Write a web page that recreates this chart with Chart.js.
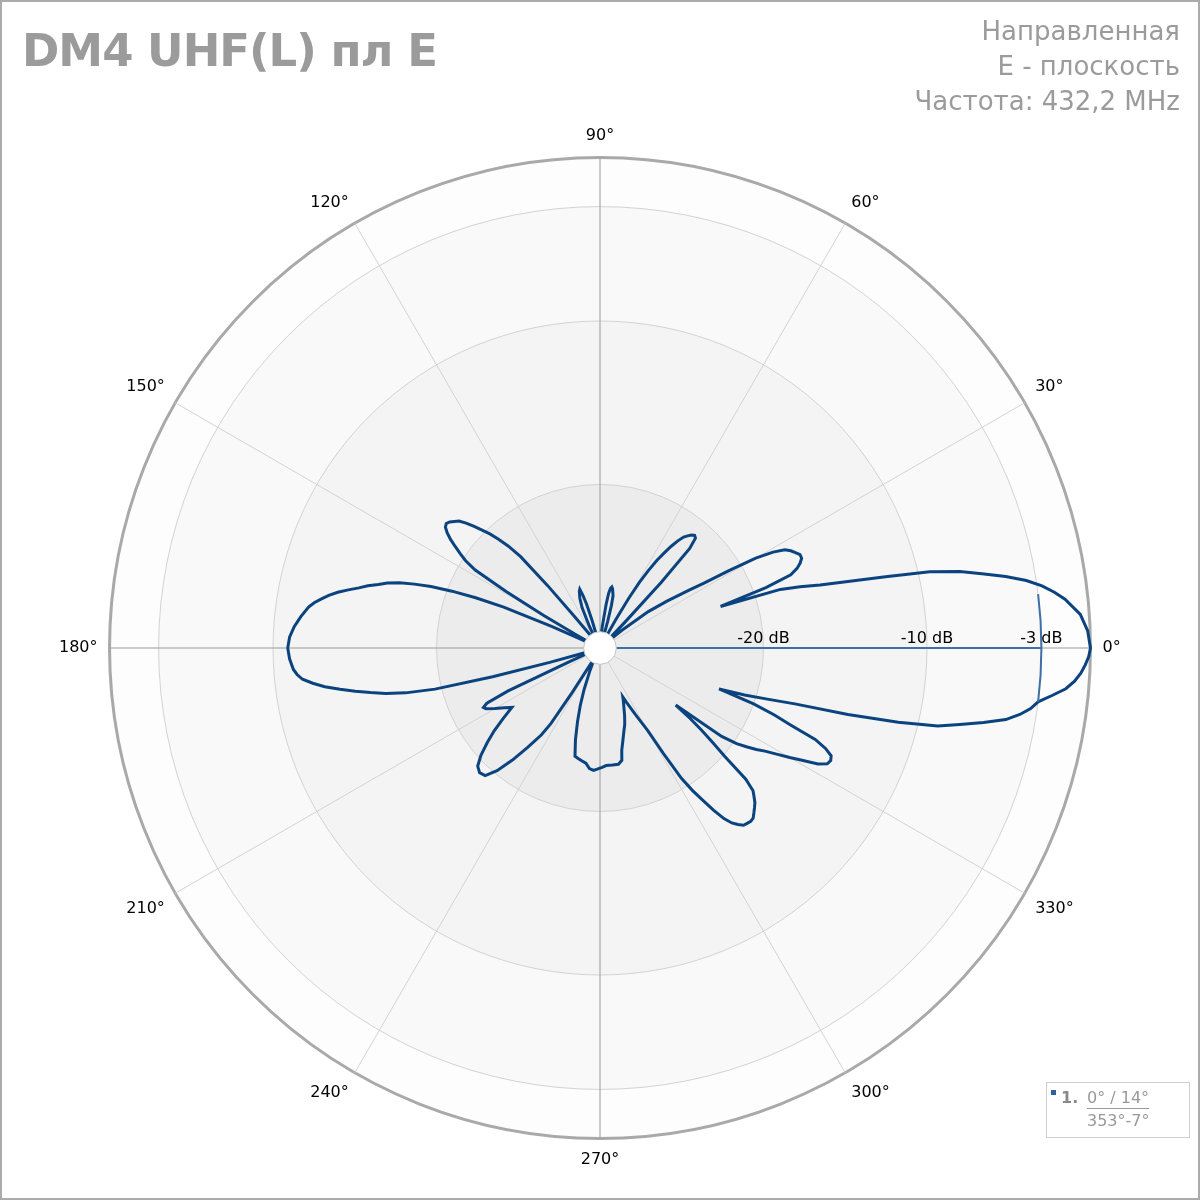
<!DOCTYPE html>
<html>
<head>
<meta charset="utf-8">
<title>DM4 UHF(L) пл E</title>
<script src="https://cdn.jsdelivr.net/npm/chart.js@4.4.1/dist/chart.umd.min.js"></script>
<style>
  body { margin: 0; background: #fff; font-family: "DejaVu Sans", sans-serif; }
  #chart { position: absolute; left: 0; top: 0; }
  #frame { position: absolute; left: 0; top: 0; width: 1200px; height: 1200px; box-sizing: border-box; border: 2px solid #ababab; pointer-events: none; }
  #title { position: absolute; left: 22px; top: 28px; font-size: 45px; line-height: 46px; letter-spacing: -1px; font-weight: bold; color: #9b9b9b; white-space: nowrap; }
  #info { position: absolute; right: 20px; top: 14px; font-size: 26px; line-height: 35px; color: #9b9b9b; text-align: right; white-space: nowrap; }
  #legend { position: absolute; left: 1046px; top: 1082px; width: 144px; height: 56px; box-sizing: border-box; border: 1px solid #cfcfcf; color: #999; font-size: 16px; }
  #legend .sw { position: absolute; left: 4px; top: 7px; width: 5px; height: 5px; background: #2f5f9e; }
  #legend .num { position: absolute; left: 14px; top: 5px; font-weight: bold; color: #8a8a8a; }
  #legend .top { position: absolute; left: 40px; top: 5px; border-bottom: 1px solid #999; line-height: 20px; }
  #legend .bot { position: absolute; left: 40px; top: 28px; line-height: 20px; }
</style>
</head>
<body>
<canvas id="chart" width="1200" height="1200"></canvas>
<div id="title">DM4 UHF(L) пл E</div>
<div id="info">Направленная<br>E - плоскость<br>Частота: 432,2 MHz</div>
<div id="legend">
  <div class="sw"></div>
  <div class="num">1.</div>
  <div class="top">0° / 14°</div>
  <div class="bot">353°-7°</div>
</div>
<div id="frame"></div>
<script>
// pattern: angle (deg, counter-clockwise from 0°) -> level (dB)
const angles = [
  0, 2, 4, 6, 7, 8, 9, 10, 11, 12, 13, 14, 15, 16, 17, 18, 19, 20, 21, 22, 23, 24, 25, 26, 27, 28, 29,
  30, 31, 32, 33, 35, 37, 39, 41, 44, 46, 47, 48, 49, 50, 51, 52, 53, 54, 55, 56, 57, 58, 59,
  60, 61, 63, 70, 72, 74, 75, 76, 78, 79, 80, 81, 82, 84, 86, 95,
  104, 106, 107, 108, 109, 110, 112, 114, 116, 118, 124, 127, 129,
  130, 131, 132, 133, 134, 135, 136, 137, 138, 139, 140, 141, 142, 143, 144, 145, 146, 147, 148, 149,
  150, 151, 153, 155, 156, 157, 158, 159, 160, 161, 162, 163, 164, 165, 166, 167, 168, 169,
  170, 171, 172, 174, 176, 178, 180, 182, 184, 185, 186, 187, 188, 189,
  190, 191, 192, 193, 194, 195, 196, 198, 202, 204, 205, 206, 207, 208,
  210, 212, 214, 216, 218, 220, 222, 224, 226, 228, 230, 232, 234, 236, 237, 238,
  240, 242, 244, 246, 249, 251, 253, 255, 257, 259, 261, 263, 265, 267, 269,
  271, 273, 276, 279, 281, 282, 284, 286, 288, 290, 292, 294, 295, 296, 298,
  300, 301, 302, 303, 304, 305, 306, 307, 308, 309, 310, 311, 312, 313, 314, 315, 316, 317, 318, 319,
  320, 321, 322, 323, 324, 325, 326, 327, 328, 329, 330, 331, 332, 333, 334, 335, 336, 337, 338, 339,
  340, 341, 342, 343, 344, 345, 346, 347, 348, 349, 350, 351, 352, 353, 354, 355, 356, 357, 358, 359
];
const gainDb = [
  0, -0.15, -0.55, -1.4, -2.0, -2.7, -3.6, -4.8, -6.2, -7.5, -9.3, -12.0, -14.3, -16.0, -17.2, -18.4, -22.2, -19.2, -17.5, -17.0, -16.7, -16.5, -16.5, -16.7, -16.9, -17.2, -17.9,
  -19.0, -20.8, -22.5, -23.5, -25.0, -26.3, -28.3, -29.5, -29.5, -27.8, -24.5, -21.8, -21.1, -21.0, -21.1, -21.3, -21.5, -21.9, -22.4, -23.0, -23.6, -24.4, -25.3,
  -26.5, -28.0, -29.6, -29.8, -29.5, -28.3, -27.3, -26.7, -26.3, -26.2, -26.3, -26.6, -27.3, -28.7, -29.7, -29.9,
  -29.7, -28.3, -27.2, -26.6, -26.2, -26.3, -26.7, -27.3, -28.5, -29.5, -29.7, -29.0, -27.5,
  -25.0, -22.6, -21.6, -20.9, -20.3, -19.8, -19.3, -18.8, -18.4, -18.2, -18.0, -17.9, -18.0, -18.3, -18.7, -19.2, -19.7, -20.2, -21.0, -23.3,
  -26.0, -28.3, -29.6, -29.3, -26.8, -23.6, -21.8, -20.3, -19.0, -18.0, -17.1, -16.4, -15.9, -15.3, -14.8, -14.2, -13.6, -13.1,
  -12.7, -12.3, -12.0, -11.6, -11.25, -11.0, -10.9, -11.0, -11.2, -11.4, -11.7, -12.3, -13.0, -13.9,
  -14.8, -15.7, -16.6, -17.8, -19.6, -23.2, -26.8, -29.3, -29.5, -28.0, -23.8, -22.3, -22.0, -22.1,
  -22.6, -23.1, -23.5, -22.7, -21.8, -21.0, -20.2, -19.6, -19.4, -19.5, -20.2, -21.3, -22.5, -23.6, -24.5, -26.8,
  -29.0, -29.3, -29.0, -28.5, -27.3, -26.3, -25.3, -24.2, -23.2, -23.1, -23.0, -22.9, -22.6, -22.5, -22.6,
  -22.7, -22.8, -22.8, -22.8, -23.0, -23.6, -24.2, -24.7, -25.1, -25.6, -26.1, -26.5, -26.7, -26.3, -25.4,
  -24.2, -22.5, -20.6, -19.6, -18.8, -17.9, -17.1, -16.6, -16.3, -16.05, -16.0, -15.95, -16.0, -16.2, -16.4, -16.6, -16.9, -17.2, -18.0, -19.9,
  -21.0, -22.0, -23.0, -24.2, -20.8, -19.8, -19.2, -18.6, -18.1, -17.4, -16.6, -15.8, -14.9, -14.4, -14.3, -14.4, -14.9, -15.7, -17.4, -18.6,
  -20.0, -22.3, -20.7, -19.3, -17.6, -14.3, -11.2, -8.8, -7.5, -6.1, -4.8, -4.0, -3.4, -3.0, -2.2, -1.4, -0.9, -0.55, -0.3, -0.1
];

const ringLevels = [-30, -20, -10, -3, 0];
const ringShades = ['#ececec', '#f4f4f4', '#f9f9f9', '#fdfdfd'];
const tickLabels = ['-20 dB', '-10 dB', '-3 dB'];
const tickLevels = [-20, -10, -3];
const beamLevel = -3;
const beamFrom = -7; // 353°
const beamTo = 7;
const holeLevel = -29;

// radar goes clockwise from the start angle, the plot counter-clockwise
const angleOf = (i) => (360 - i) % 360;
const labels = [];
const patternData = [];
for (let i = 0; i < 360; i++) {
  labels.push(angleOf(i));
  patternData.push(null);
}
angles.forEach((a, k) => {
  patternData[(360 - a) % 360] = gainDb[k];
});

const ringFill = {
  id: 'ringFill',
  beforeDraw(chart) {
    const s = chart.scales.r;
    const c = chart.ctx;
    c.save();
    for (let i = ringLevels.length - 1; i > 0; i--) {
      c.beginPath();
      c.arc(s.xCenter, s.yCenter, s.getDistanceFromCenterForValue(ringLevels[i]), 0, Math.PI * 2);
      c.fillStyle = ringShades[i - 1];
      c.fill();
    }
    c.restore();
  }
};

const overlay = {
  id: 'overlay',
  afterDatasetsDraw(chart) {
    const s = chart.scales.r;
    const c = chart.ctx;
    const rb = s.getDistanceFromCenterForValue(beamLevel);
    c.save();
    c.strokeStyle = '#3f6fa6';
    c.lineWidth = 2;
    c.beginPath();
    c.moveTo(s.xCenter, s.yCenter);
    c.lineTo(s.xCenter + rb, s.yCenter);
    c.stroke();
    c.beginPath();
    c.arc(s.xCenter, s.yCenter, rb, beamFrom * Math.PI / 180, beamTo * Math.PI / 180);
    c.stroke();

    // white hub in the middle
    c.beginPath();
    c.arc(s.xCenter, s.yCenter, s.getDistanceFromCenterForValue(holeLevel), 0, Math.PI * 2);
    c.fillStyle = '#fff';
    c.fill();
    c.strokeStyle = '#c4c4c4';
    c.lineWidth = 1;
    c.stroke();

    c.font = '16px "DejaVu Sans"';
    c.fillStyle = '#000';
    c.textAlign = 'center';
    c.textBaseline = 'alphabetic';
    tickLevels.forEach((v, k) => {
      c.fillText(tickLabels[k], s.xCenter + s.getDistanceFromCenterForValue(v), s.yCenter - 5);
    });
    c.restore();
  }
};

const ctx = document.getElementById('chart').getContext('2d');
new Chart(ctx, {
  type: 'radar',
  data: {
    labels: labels,
    datasets: [{
      data: patternData,
      borderColor: '#0b437f',
      borderWidth: 3,
      pointRadius: 0,
      fill: false,
      spanGaps: true,
      tension: 0
    }]
  },
  options: {
    responsive: false,
    animation: false,
    events: [],
    layout: { padding: { left: 49, top: 108, right: 69, bottom: 10 } },
    plugins: {
      legend: { display: false },
      tooltip: { enabled: false }
    },
    scales: {
      r: {
        min: -30,
        max: 0,
        startAngle: 90,
        afterBuildTicks: (scale) => {
          scale.ticks = ringLevels.map((v) => ({ value: v }));
        },
        ticks: { display: false },
        grid: {
          circular: true,
          color: (c) => (c.tick && c.tick.value === 0 ? '#a9a9a9' : '#d3d3d3'),
          lineWidth: (c) => (c.tick && c.tick.value === 0 ? 3 : 1)
        },
        angleLines: {
          color: (c) => (angleOf(c.index) % 90 === 0 ? '#9a9a9a' : '#d3d3d3'),
          lineWidth: (c) => (angleOf(c.index) % 30 === 0 ? 1 : 0)
        },
        pointLabels: {
          padding: 12,
          color: '#000',
          font: { family: 'DejaVu Sans', size: 16 },
          callback: (label) => (label % 30 === 0 ? label + '°' : '')
        }
      }
    }
  },
  plugins: [ringFill, overlay]
});
</script>
</body>
</html>
